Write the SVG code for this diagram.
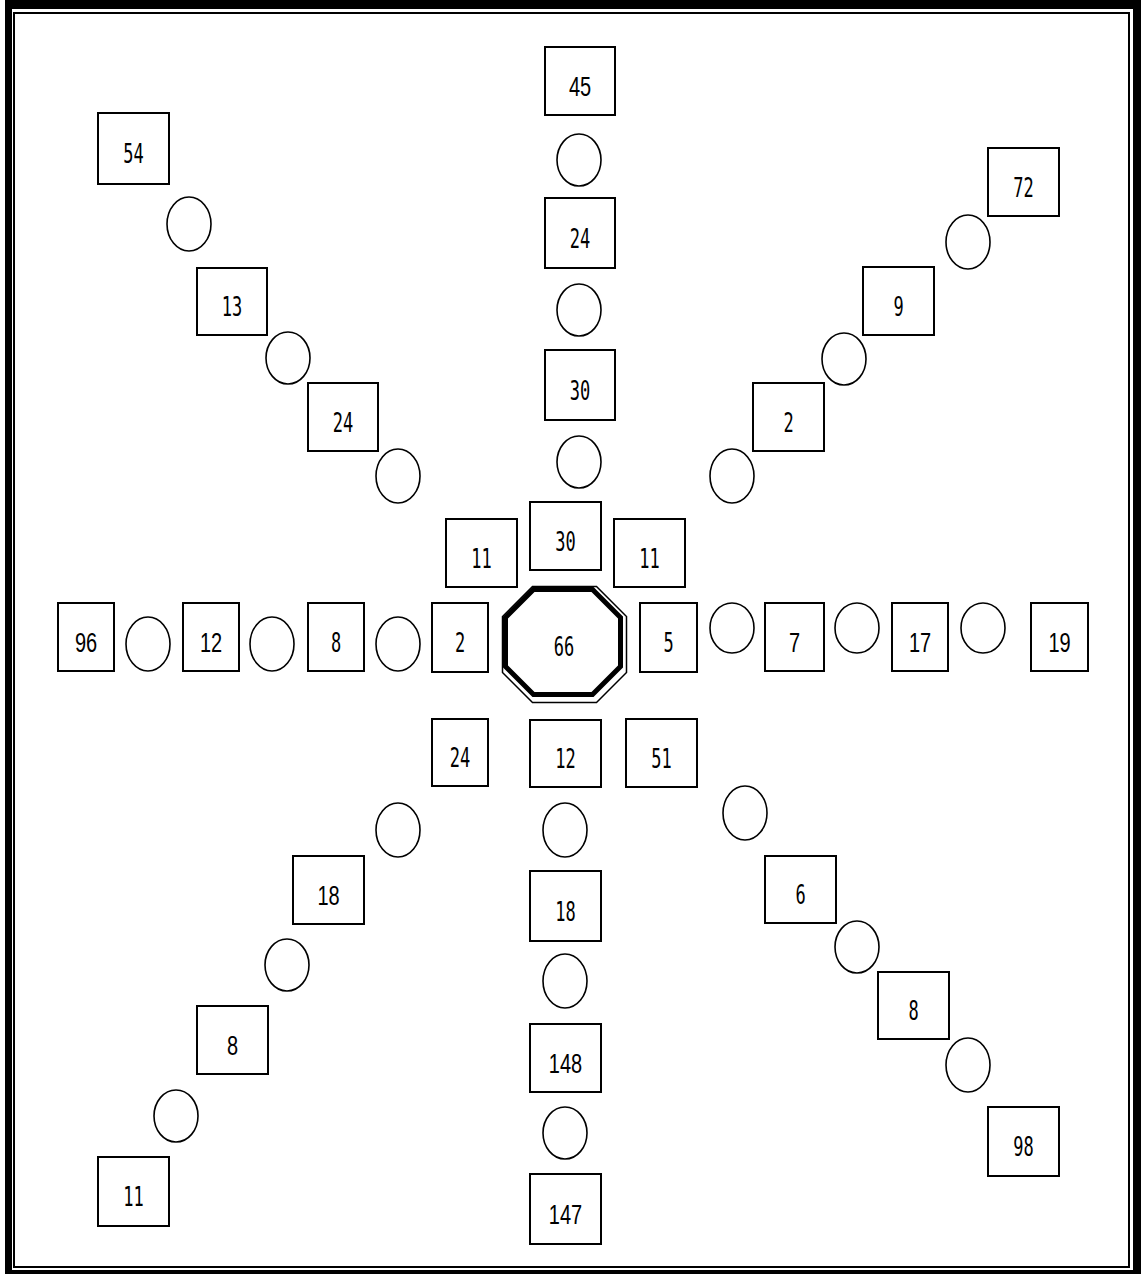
<svg xmlns="http://www.w3.org/2000/svg" width="1141" height="1274" viewBox="0 0 1141 1274">
<style>
.box{fill:#fff;stroke:#000;stroke-width:2}
.cir{fill:#fff;stroke:#000;stroke-width:1.6}
.a{font-family:"Liberation Sans",Arial,sans-serif;font-size:20px;text-anchor:middle;fill:#000}
.b{font-family:"DejaVu Sans Mono","Liberation Mono",monospace;font-size:17px;text-anchor:middle;fill:#000}
</style>
<rect x="0" y="0" width="1141" height="1274" fill="#fff"/>
<g id="frame">
<rect x="5" y="0" width="1136" height="1274" fill="#000"/>
<rect x="12" y="9" width="1121" height="1261" fill="#fff"/>
<rect x="14" y="13" width="1115" height="1254" fill="none" stroke="#000" stroke-width="2"/>
</g>
<g id="connectors"></g>
<g id="hub">
<polygon points="532.5,586.5 596.5,586.5 626.5,616.5 626.5,672.5 596.5,702.5 532.5,702.5 502.5,672.5 502.5,616.5" fill="#fff" stroke="#000" stroke-width="1.5"/>
<polygon points="533.5,589.5 592.5,589.5 620.5,617.5 620.5,666.5 592.5,694.5 533.5,694.5 505.5,666.5 505.5,617.5" fill="#fff" stroke="#000" stroke-width="5"/>
<text class="b" transform="translate(564,646) scale(1,1.6)" y="6.2">66</text>
</g>
<g id="n45"><rect class="box" x="545" y="47" width="70" height="68"/><text class="a" transform="translate(580,86) scale(1,1.35)" y="7.2">45</text></g>
<g id="c1"><ellipse class="cir" cx="579" cy="160" rx="22" ry="26"/></g>
<g id="n24a"><rect class="box" x="545" y="198" width="70" height="70"/><text class="b" transform="translate(580,238) scale(1,1.6)" y="6.2">24</text></g>
<g id="c2"><ellipse class="cir" cx="579" cy="310" rx="22" ry="26"/></g>
<g id="n30a"><rect class="box" x="545" y="350" width="70" height="70"/><text class="b" transform="translate(580,390) scale(1,1.6)" y="6.2">30</text></g>
<g id="c3"><ellipse class="cir" cx="579" cy="462" rx="22" ry="26"/></g>
<g id="n30b"><rect class="box" x="530" y="502" width="71" height="68"/><text class="b" transform="translate(565.5,541) scale(1,1.6)" y="6.2">30</text></g>
<g id="n11a"><rect class="box" x="446" y="519" width="71" height="68"/><text class="b" transform="translate(481.5,558) scale(1,1.6)" y="6.2">11</text></g>
<g id="n11b"><rect class="box" x="614" y="519" width="71" height="68"/><text class="b" transform="translate(649.5,558) scale(1,1.6)" y="6.2">11</text></g>
<g id="n2a"><rect class="box" x="432" y="603" width="56" height="69"/><text class="b" transform="translate(460,642.5) scale(1,1.6)" y="6.2">2</text></g>
<g id="n5"><rect class="box" x="640" y="603" width="57" height="69"/><text class="b" transform="translate(668.5,642.5) scale(1,1.6)" y="6.2">5</text></g>
<g id="n96"><rect class="box" x="58" y="603" width="56" height="68"/><text class="a" transform="translate(86,642) scale(1,1.35)" y="7.2">96</text></g>
<g id="c4"><ellipse class="cir" cx="148" cy="644" rx="22" ry="27"/></g>
<g id="n12a"><rect class="box" x="183" y="603" width="56" height="68"/><text class="a" transform="translate(211,642) scale(1,1.35)" y="7.2">12</text></g>
<g id="c5"><ellipse class="cir" cx="272" cy="644" rx="22" ry="27"/></g>
<g id="n8a"><rect class="box" x="308" y="603" width="56" height="68"/><text class="b" transform="translate(336,642) scale(1,1.6)" y="6.2">8</text></g>
<g id="c6"><ellipse class="cir" cx="398" cy="644" rx="22" ry="27"/></g>
<g id="c7"><ellipse class="cir" cx="732" cy="628" rx="22" ry="25"/></g>
<g id="n7"><rect class="box" x="765" y="603" width="59" height="68"/><text class="a" transform="translate(794.5,642) scale(1,1.35)" y="7.2">7</text></g>
<g id="c8"><ellipse class="cir" cx="857" cy="628" rx="22" ry="25"/></g>
<g id="n17"><rect class="box" x="892" y="603" width="56" height="68"/><text class="a" transform="translate(920,642) scale(1,1.35)" y="7.2">17</text></g>
<g id="c9"><ellipse class="cir" cx="983" cy="628" rx="22" ry="25"/></g>
<g id="n19"><rect class="box" x="1031" y="603" width="57" height="68"/><text class="a" transform="translate(1059.5,642) scale(1,1.35)" y="7.2">19</text></g>
<g id="n54"><rect class="box" x="98" y="113" width="71" height="71"/><text class="b" transform="translate(133.5,153.5) scale(1,1.6)" y="6.2">54</text></g>
<g id="c10"><ellipse class="cir" cx="189" cy="224" rx="22" ry="27"/></g>
<g id="n13"><rect class="box" x="197" y="268" width="70" height="67"/><text class="b" transform="translate(232,306.5) scale(1,1.6)" y="6.2">13</text></g>
<g id="c11"><ellipse class="cir" cx="288" cy="358" rx="22" ry="26"/></g>
<g id="n24b"><rect class="box" x="308" y="383" width="70" height="68"/><text class="b" transform="translate(343,422) scale(1,1.6)" y="6.2">24</text></g>
<g id="c12"><ellipse class="cir" cx="398" cy="476" rx="22" ry="27"/></g>
<g id="n72"><rect class="box" x="988" y="148" width="71" height="68"/><text class="b" transform="translate(1023.5,187) scale(1,1.6)" y="6.2">72</text></g>
<g id="c13"><ellipse class="cir" cx="968" cy="242" rx="22" ry="27"/></g>
<g id="n9"><rect class="box" x="863" y="267" width="71" height="68"/><text class="b" transform="translate(898.5,306) scale(1,1.6)" y="6.2">9</text></g>
<g id="c14"><ellipse class="cir" cx="844" cy="359" rx="22" ry="26"/></g>
<g id="n2b"><rect class="box" x="753" y="383" width="71" height="68"/><text class="b" transform="translate(788.5,422) scale(1,1.6)" y="6.2">2</text></g>
<g id="c15"><ellipse class="cir" cx="732" cy="476" rx="22" ry="27"/></g>
<g id="n24c"><rect class="box" x="432" y="719" width="56" height="67"/><text class="b" transform="translate(460,757.5) scale(1,1.6)" y="6.2">24</text></g>
<g id="c16"><ellipse class="cir" cx="398" cy="830" rx="22" ry="27"/></g>
<g id="n18a"><rect class="box" x="293" y="856" width="71" height="68"/><text class="a" transform="translate(328.5,895) scale(1,1.35)" y="7.2">18</text></g>
<g id="c17"><ellipse class="cir" cx="287" cy="965" rx="22" ry="26"/></g>
<g id="n8b"><rect class="box" x="197" y="1006" width="71" height="68"/><text class="a" transform="translate(232.5,1045) scale(1,1.35)" y="7.2">8</text></g>
<g id="c18"><ellipse class="cir" cx="176" cy="1116" rx="22" ry="26"/></g>
<g id="n11c"><rect class="box" x="98" y="1157" width="71" height="69"/><text class="b" transform="translate(133.5,1196.5) scale(1,1.6)" y="6.2">11</text></g>
<g id="n12b"><rect class="box" x="530" y="720" width="71" height="67"/><text class="b" transform="translate(565.5,758.5) scale(1,1.6)" y="6.2">12</text></g>
<g id="c19"><ellipse class="cir" cx="565" cy="830" rx="22" ry="27"/></g>
<g id="n18b"><rect class="box" x="530" y="871" width="71" height="70"/><text class="b" transform="translate(565.5,911) scale(1,1.6)" y="6.2">18</text></g>
<g id="c20"><ellipse class="cir" cx="565" cy="981" rx="22" ry="27"/></g>
<g id="n148"><rect class="box" x="530" y="1024" width="71" height="68"/><text class="a" transform="translate(565.5,1063) scale(1,1.35)" y="7.2">148</text></g>
<g id="c21"><ellipse class="cir" cx="565" cy="1133" rx="22" ry="26"/></g>
<g id="n147"><rect class="box" x="530" y="1174" width="71" height="70"/><text class="a" transform="translate(565.5,1214) scale(1,1.35)" y="7.2">147</text></g>
<g id="n51"><rect class="box" x="626" y="719" width="71" height="68"/><text class="b" transform="translate(661.5,758) scale(1,1.6)" y="6.2">51</text></g>
<g id="c22"><ellipse class="cir" cx="745" cy="813" rx="22" ry="27"/></g>
<g id="n6"><rect class="box" x="765" y="856" width="71" height="67"/><text class="b" transform="translate(800.5,894.5) scale(1,1.6)" y="6.2">6</text></g>
<g id="c23"><ellipse class="cir" cx="857" cy="947" rx="22" ry="26"/></g>
<g id="n8c"><rect class="box" x="878" y="972" width="71" height="67"/><text class="b" transform="translate(913.5,1010.5) scale(1,1.6)" y="6.2">8</text></g>
<g id="c24"><ellipse class="cir" cx="968" cy="1065" rx="22" ry="27"/></g>
<g id="n98"><rect class="box" x="988" y="1107" width="71" height="69"/><text class="b" transform="translate(1023.5,1146.5) scale(1,1.6)" y="6.2">98</text></g>
</svg>
